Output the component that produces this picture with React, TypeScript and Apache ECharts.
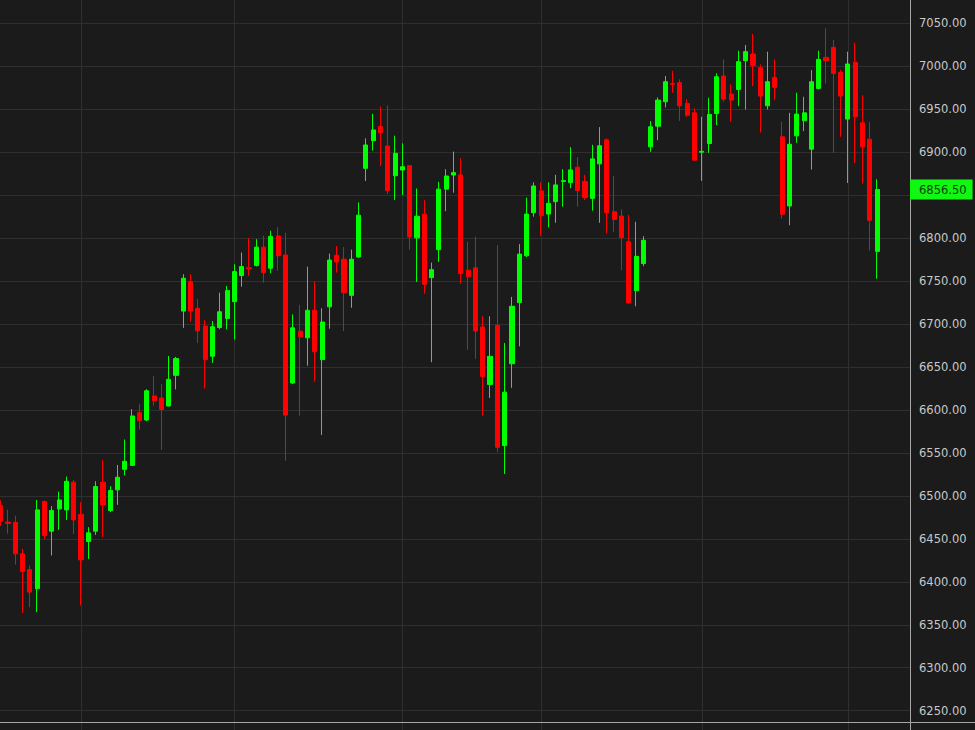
import React, { useEffect, useRef } from "react";
import * as echarts from "echarts";

// Trading sessions (category slots; the last four are empty space before the price axis)
const sessions: string[] = Array.from({ length: 125 }, (_, i) => String(i + 1));

const opens: number[] = [
  6489, 6469.5, 6469, 6432.6, 6414.3, 6391.9, 6493.4, 6458.9, 6484.9, 6483.7,
  6515.9, 6478.3, 6446.9, 6458.9, 6515.9, 6483, 6507, 6530.9, 6535.5, 6596.9,
  6588.3, 6616.3, 6613.8, 6604.6, 6640.3, 6715.1, 6749.4, 6718.2, 6697.6, 6662.5,
  6696, 6706.5, 6726, 6756.4, 6765.5, 6768.1, 6789.5, 6765, 6802.5, 6780.3,
  6631.4, 6691.7, 6684, 6716, 6658.5, 6720, 6780, 6775.4, 6733.4, 6778.1,
  6881.2, 6913.4, 6929.8, 6907.2, 6872.6, 6879.2, 6884.3, 6800.3, 6827.9, 6754,
  6786.6, 6857, 6873.5, 6873.5, 6762.7, 6765.4, 6696.6, 6629.7, 6698.5, 6558.5,
  6653.8, 6725, 6779.4, 6829.6, 6854.9, 6828, 6842.4, 6866, 6864.6, 6882.5,
  6865.8, 6846.3, 6886.4, 6914.4, 6830.8, 6825.7, 6795.8, 6738.8, 6770.4, 6906.2,
  6930.3, 6958.7, 6979.8, 6980.8, 6956.7, 6945.8, 6900, 6910.1, 6945, 6988.6,
  6967.6, 6973, 7006.5, 7014.2, 6998.3, 6954, 6987, 6917.9, 6837.4, 6919,
  6936.5, 6903.5, 6974.2, 7010.4, 7022, 6992.9, 6938.5, 7004.5, 6934.2, 6915.1,
  6784.6,
];

const closes: number[] = [
  6470.5, 6468, 6432.6, 6412, 6388, 6483.7, 6453.9, 6483, 6495.3, 6517,
  6472, 6425.6, 6457, 6510.9, 6489.5, 6506.2, 6521.7, 6540.2, 6593, 6587.5,
  6622.3, 6610.6, 6600.5, 6635.6, 6659.8, 6753.3, 6715.1, 6692.1, 6658.6, 6696.8,
  6714.3, 6738.9, 6761, 6766.9, 6764.5, 6789.5, 6759.9, 6802, 6779.5, 6594,
  6695.6, 6685, 6716, 6667.8, 6702.4, 6774.5, 6772.2, 6736.5, 6775.4, 6826.7,
  6908.4, 6925.9, 6922.8, 6855.1, 6898.7, 6883.1, 6801.4, 6825.5, 6746.2, 6763.3,
  6857, 6872.3, 6876.2, 6758.7, 6754.9, 6691.9, 6639, 6662.4, 6556.6, 6620.7,
  6720.7, 6781.4, 6828, 6860.7, 6826.1, 6840.5, 6861.9, 6867, 6879.4, 6855.3,
  6847.1, 6892.2, 6907.4, 6829.6, 6821.8, 6800.4, 6724.6, 6778.8, 6797.5, 6929.5,
  6960.6, 6982, 6979, 6954, 6943.1, 6890.7, 6901, 6943.9, 6987.8, 6961.8,
  6960.6, 7005.3, 7017, 7000.6, 6965.3, 6982, 6975.4, 6827.7, 6909.3, 6944.3,
  6945.8, 6982, 7008, 7006.5, 6991.7, 6965.3, 7002.6, 6941.2, 6906.2, 6820.7,
  6856.5,
];

const lows: number[] = [
  6465, 6456, 6420, 6363.6, 6370.5, 6364.7, 6450, 6430.6, 6460.5, 6472,
  6455.8, 6372.5, 6426.7, 6454.7, 6452, 6481, 6489.5, 6523.8, 6535, 6577.3,
  6587, 6605, 6553.7, 6604, 6623.9, 6695.6, 6702.6, 6678, 6624.8, 6654.8,
  6694, 6693.7, 6682, 6743.5, 6756, 6767, 6748.2, 6759.1, 6762, 6541,
  6630, 6593.5, 6651.5, 6632.8, 6570.9, 6694.5, 6759.8, 6691.7, 6719, 6777,
  6866.4, 6901.8, 6883.9, 6851.2, 6844.2, 6850, 6786.6, 6748.9, 6735.3, 6655.6,
  6772.3, 6831.3, 6852.9, 6746.7, 6670.1, 6659.6, 6593.5, 6614.1, 6550.7, 6525.4,
  6625.8, 6674, 6778, 6824.9, 6802.4, 6812.5, 6817.9, 6836.6, 6858, 6836.6,
  6844.4, 6831.9, 6817.9, 6805.5, 6807.4, 6762.7, 6723.8, 6720.7, 6767.4, 6900.4,
  6913.9, 6952.1, 6969.2, 6936.5, 6941.2, 6890, 6866.6, 6899.2, 6931.5, 6958.7,
  6935.3, 6953.6, 6949.7, 6976.9, 6922.9, 6949.7, 6960.6, 6822.6, 6814.9, 6910.9,
  6924.5, 6879.8, 6973, 6980, 6899.2, 6917.9, 6864.2, 6887.5, 6863.4, 6785.7,
  6752.7,
];

const highs: number[] = [
  6495, 6484, 6477, 6438.4, 6419, 6495.3, 6494.6, 6488, 6505, 6522.5,
  6518.6, 6492.6, 6463.6, 6517, 6541.9, 6511.2, 6536, 6565.6, 6600.8, 6607,
  6624.2, 6639.5, 6630, 6662.9, 6661.8, 6758, 6758, 6729.2, 6704.6, 6703.4,
  6736.5, 6744.3, 6769.6, 6783.3, 6800, 6798.8, 6802.7, 6808.6, 6812.6, 6806.3,
  6711.2, 6722.3, 6766.7, 6750.1, 6718.4, 6782, 6790.9, 6789.7, 6786.6, 6841.5,
  6916.2, 6944.6, 6953.1, 6954.3, 6919.3, 6910.3, 6885, 6857.8, 6844.2, 6771.5,
  6865.5, 6880.1, 6900.7, 6892.9, 6795.8, 6801.6, 6709, 6709, 6791.9, 6677.9,
  6731.6, 6793, 6847.1, 6865, 6864.6, 6865, 6873.6, 6880.2, 6905.8, 6894.2,
  6873.6, 6908.6, 6929.2, 6916, 6872.4, 6833.5, 6826.9, 6819, 6802.2, 6936.1,
  6963.7, 6988.6, 6994.8, 6984.7, 6961.8, 6950.9, 6941.2, 6963.3, 6991.7, 7008,
  6978.9, 7018.1, 7024.7, 7037.6, 7002.2, 7017, 7008, 6935.3, 6945.8, 6969.2,
  6964.5, 6995.6, 7018.1, 7044.2, 7030.6, 6995.6, 7017, 7027.5, 6966.4, 6935.3,
  6868.5,
];

// Sessions where a vertical grid line is drawn (period boundaries)
const periodLines: number[] = [11, 32, 55, 74, 96, 116];

// Price axis
const priceMin = 6200;
const priceMax = 7100;
const priceStep = 50;
const shownMin = 6250;
const shownMax = 7050;

const BG = "#1b1b1b";
const GRID = "#2f2f2f";
const UP = "#00ff00";
const DOWN = "#ff0000";

export default function App() {
  const ref = useRef<HTMLDivElement | null>(null);

  useEffect(() => {
    if (!ref.current) return;
    const chart = echarts.init(ref.current, undefined, { renderer: "svg" });
    const data = opens.map((o, i) => [o, closes[i], lows[i], highs[i]]);
    const lastClose = closes[closes.length - 1];
    const lineSet = new Set(periodLines);

    chart.setOption({
      animation: false,
      backgroundColor: BG,
      grid: {
        left: -2.95,
        right: 65,
        top: -19.66,
        bottom: -23.66,
        containLabel: false,
        outerBoundsMode: "none",
      },
      xAxis: {
        type: "category",
        data: sessions,
        boundaryGap: true,
        axisLine: { show: false },
        axisTick: { show: false },
        axisLabel: { show: false },
        splitLine: {
          show: true,
          alignWithLabel: true,
          interval: (index: number) => lineSet.has(index),
          lineStyle: { color: GRID, width: 1 },
        },
      },
      yAxis: {
        type: "value",
        position: "right",
        min: priceMin,
        max: priceMax,
        interval: priceStep,
        scale: false,
        axisLine: { show: true, lineStyle: { color: "#a6a6a6", width: 1 } },
        axisTick: { show: false },
        axisLabel: {
          margin: 9,
          color: "#c8c8c8",
          fontFamily: "DejaVu Sans",
          fontSize: 11.5,
          formatter: (v: number) =>
            v < shownMin || v > shownMax || Math.abs(v - lastClose) < 15
              ? ""
              : v.toFixed(2),
        },
        splitLine: { show: true, lineStyle: { color: GRID, width: 1 } },
      },
      graphic: [
        {
          type: "line",
          shape: { x1: 0, y1: 722.5, x2: 975, y2: 722.5 },
          style: { stroke: "#a6a6a6", lineWidth: 1 },
          z: 100,
        },
      ],
      series: [
        {
          type: "candlestick",
          data,
          clip: false,
          barWidth: 4.6,
          itemStyle: {
            color: UP,
            color0: DOWN,
            borderColor: UP,
            borderColor0: DOWN,
            borderWidth: 1,
          },
          markLine: {
            silent: true,
            symbol: ["none", "none"],
            lineStyle: { color: "rgba(0,0,0,0)", width: 0, type: "solid" },
            data: [{ yAxis: lastClose }],
            label: {
              show: true,
              opacity: 1,
              position: "end",
              distance: 0,
              formatter: lastClose.toFixed(2),
              backgroundColor: "#11f711",
              color: "#0d3d0d",
              fontFamily: "DejaVu Sans",
              fontSize: 11.5,
              lineHeight: 14,
              padding: [3, 6, 3, 9],
            },
          },
        },
      ],
    });
    return () => chart.dispose();
  }, []);

  return (
    <div
      ref={ref}
      style={{
        position: "fixed",
        left: 0,
        top: 0,
        width: 975,
        height: 730,
        background: BG,
      }}
    />
  );
}
